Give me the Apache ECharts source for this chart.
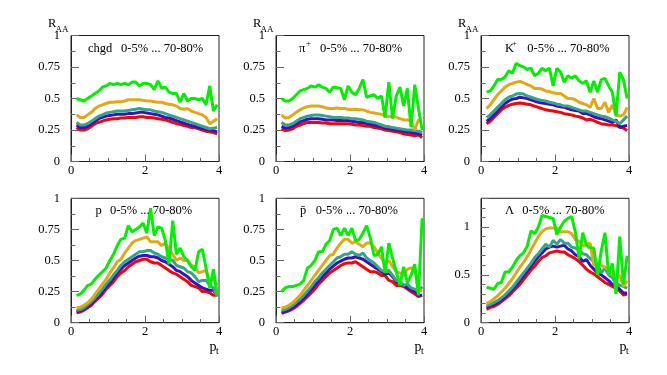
<!DOCTYPE html>
<html><head><meta charset="utf-8">
<script src="https://cdn.jsdelivr.net/npm/echarts@6/dist/echarts.min.js"></script>
<style>html,body{margin:0;padding:0;background:#fff}#c{width:667px;height:375px}</style>
</head><body><div id="c"></div>
<script>
// transverse momentum bins (GeV/c)
const pt = [0.15,0.25,0.35,0.45,0.55,0.65,0.75,0.85,0.95,1.05,1.15,1.25,1.35,1.45,1.55,1.65,1.75,1.85,1.95,2.05,2.15,2.25,2.35,2.45,2.55,2.65,2.75,2.85,2.95,3.05,3.15,3.25,3.35,3.45,3.55,3.65,3.75,3.85,3.95];
const xTicks = [0, 2, 4];
const yTicks = [0, 0.25, 0.5, 0.75, 1];
const yTicksLambda = [0, 0.5, 1];
const centralityText = '0-5% ... 70-80%';

// charged hadrons
const chgdRed = [0.27,0.25,0.25,0.26,0.28,0.30,0.31,0.32,0.33,0.335,0.34,0.34,0.345,0.345,0.35,0.35,0.35,0.355,0.355,0.35,0.35,0.345,0.34,0.335,0.33,0.32,0.31,0.30,0.295,0.285,0.28,0.27,0.27,0.26,0.25,0.24,0.235,0.23,0.22];
const chgdBlue = [0.29,0.27,0.27,0.28,0.30,0.32,0.34,0.35,0.36,0.365,0.37,0.375,0.375,0.375,0.38,0.38,0.385,0.39,0.39,0.385,0.38,0.375,0.37,0.36,0.35,0.345,0.335,0.325,0.315,0.305,0.295,0.285,0.28,0.27,0.26,0.255,0.25,0.245,0.235];
const chgdTeal = [0.31,0.29,0.29,0.30,0.32,0.34,0.36,0.37,0.385,0.39,0.395,0.40,0.40,0.40,0.405,0.41,0.415,0.42,0.415,0.41,0.41,0.40,0.395,0.39,0.38,0.37,0.36,0.35,0.34,0.33,0.32,0.31,0.30,0.29,0.28,0.27,0.26,0.265,0.27];
const chgdOrange = [0.37,0.35,0.35,0.37,0.39,0.42,0.44,0.45,0.46,0.47,0.47,0.475,0.475,0.48,0.49,0.49,0.49,0.49,0.485,0.48,0.48,0.475,0.47,0.47,0.46,0.455,0.45,0.44,0.42,0.415,0.42,0.40,0.39,0.38,0.37,0.35,0.30,0.32,0.34];
const chgdGreen = [0.50,0.49,0.48,0.50,0.52,0.54,0.56,0.59,0.60,0.62,0.61,0.62,0.61,0.62,0.61,0.63,0.63,0.60,0.62,0.62,0.61,0.57,0.64,0.58,0.59,0.55,0.54,0.54,0.47,0.54,0.48,0.50,0.50,0.49,0.50,0.45,0.60,0.40,0.45];

// pi+
const piRed = [0.26,0.245,0.25,0.26,0.28,0.29,0.30,0.31,0.31,0.31,0.31,0.305,0.305,0.30,0.30,0.30,0.30,0.30,0.30,0.295,0.29,0.29,0.285,0.28,0.28,0.27,0.265,0.26,0.25,0.245,0.24,0.235,0.23,0.22,0.215,0.21,0.205,0.21,0.19];
const piBlue = [0.28,0.265,0.27,0.28,0.30,0.315,0.325,0.335,0.34,0.34,0.34,0.335,0.33,0.33,0.33,0.325,0.325,0.325,0.325,0.32,0.315,0.31,0.31,0.30,0.295,0.29,0.28,0.275,0.265,0.26,0.255,0.25,0.245,0.24,0.235,0.23,0.225,0.22,0.21];
const piTeal = [0.31,0.29,0.29,0.30,0.32,0.34,0.35,0.36,0.365,0.37,0.37,0.365,0.36,0.355,0.35,0.35,0.35,0.345,0.345,0.34,0.34,0.335,0.33,0.32,0.315,0.31,0.30,0.29,0.28,0.275,0.27,0.265,0.26,0.255,0.25,0.25,0.245,0.24,0.23];
const piOrange = [0.37,0.345,0.35,0.37,0.39,0.41,0.425,0.435,0.44,0.44,0.44,0.435,0.425,0.42,0.42,0.425,0.42,0.42,0.415,0.41,0.415,0.41,0.41,0.40,0.39,0.385,0.38,0.375,0.36,0.355,0.36,0.35,0.34,0.33,0.33,0.32,0.25,0.33,0.32];
const piGreen = [0.50,0.48,0.48,0.50,0.53,0.56,0.57,0.58,0.60,0.59,0.61,0.59,0.58,0.55,0.59,0.585,0.58,0.49,0.60,0.55,0.53,0.58,0.65,0.51,0.52,0.53,0.50,0.52,0.35,0.63,0.34,0.52,0.59,0.44,0.58,0.27,0.61,0.42,0.25];

// K+
const kRed = [0.30,0.32,0.35,0.38,0.41,0.43,0.445,0.455,0.46,0.465,0.46,0.455,0.45,0.44,0.43,0.42,0.41,0.405,0.40,0.395,0.39,0.38,0.375,0.37,0.36,0.355,0.345,0.33,0.335,0.325,0.31,0.30,0.295,0.29,0.29,0.285,0.275,0.265,0.245];
const kBlue = [0.32,0.34,0.37,0.40,0.43,0.46,0.48,0.495,0.50,0.51,0.505,0.50,0.49,0.48,0.47,0.465,0.46,0.455,0.45,0.44,0.435,0.43,0.42,0.41,0.405,0.40,0.38,0.38,0.37,0.355,0.345,0.34,0.33,0.32,0.31,0.33,0.27,0.28,0.285];
const kTeal = [0.35,0.37,0.40,0.43,0.46,0.49,0.51,0.52,0.535,0.54,0.535,0.52,0.51,0.50,0.49,0.485,0.48,0.47,0.465,0.455,0.45,0.44,0.44,0.43,0.42,0.41,0.40,0.40,0.39,0.38,0.37,0.36,0.355,0.345,0.33,0.32,0.30,0.33,0.36];
const kOrange = [0.42,0.45,0.49,0.53,0.56,0.59,0.61,0.62,0.63,0.635,0.625,0.61,0.60,0.58,0.58,0.575,0.56,0.555,0.545,0.54,0.54,0.52,0.50,0.50,0.49,0.47,0.46,0.45,0.43,0.50,0.42,0.42,0.47,0.39,0.45,0.37,0.36,0.37,0.43];
const kGreen = [0.55,0.56,0.60,0.65,0.65,0.67,0.72,0.70,0.78,0.76,0.75,0.73,0.74,0.68,0.70,0.74,0.72,0.74,0.60,0.74,0.71,0.63,0.68,0.66,0.68,0.64,0.62,0.64,0.55,0.64,0.55,0.65,0.66,0.60,0.55,0.36,0.71,0.65,0.50];

// p
const pRed = [0.08,0.085,0.10,0.12,0.14,0.17,0.20,0.23,0.27,0.30,0.33,0.37,0.40,0.42,0.45,0.47,0.49,0.50,0.51,0.51,0.49,0.48,0.48,0.46,0.44,0.42,0.40,0.39,0.37,0.35,0.33,0.30,0.29,0.28,0.25,0.25,0.24,0.22,0.22];
const pBlue = [0.09,0.095,0.11,0.13,0.155,0.185,0.215,0.25,0.29,0.32,0.36,0.40,0.43,0.46,0.48,0.50,0.52,0.535,0.54,0.54,0.53,0.53,0.52,0.50,0.49,0.47,0.45,0.42,0.41,0.39,0.37,0.34,0.32,0.30,0.28,0.27,0.26,0.26,0.22];
const pTeal = [0.10,0.105,0.12,0.145,0.17,0.20,0.235,0.27,0.31,0.345,0.385,0.42,0.46,0.49,0.51,0.53,0.55,0.57,0.57,0.58,0.58,0.56,0.55,0.53,0.52,0.51,0.50,0.46,0.45,0.44,0.41,0.40,0.37,0.33,0.34,0.34,0.30,0.28,0.21];
const pOrange = [0.12,0.125,0.14,0.16,0.19,0.23,0.27,0.31,0.35,0.40,0.44,0.49,0.51,0.56,0.60,0.64,0.66,0.67,0.68,0.69,0.65,0.65,0.65,0.62,0.64,0.59,0.55,0.50,0.52,0.50,0.50,0.46,0.45,0.40,0.41,0.42,0.33,0.35,0.30];
const pGreen = [0.22,0.23,0.26,0.30,0.31,0.35,0.38,0.41,0.44,0.50,0.55,0.62,0.67,0.68,0.78,0.73,0.75,0.77,0.80,0.72,0.92,0.70,0.77,0.76,0.66,0.47,0.82,0.55,0.60,0.53,0.50,0.45,0.42,0.57,0.59,0.44,0.28,0.43,0.22];

// anti-p
const pbRed = [0.075,0.085,0.095,0.11,0.13,0.155,0.18,0.21,0.24,0.27,0.31,0.34,0.37,0.40,0.42,0.44,0.46,0.475,0.48,0.48,0.49,0.47,0.45,0.43,0.41,0.41,0.40,0.38,0.38,0.34,0.33,0.30,0.30,0.29,0.27,0.25,0.23,0.21,0.22];
const pbBlue = [0.085,0.09,0.105,0.12,0.145,0.17,0.20,0.23,0.265,0.30,0.335,0.37,0.40,0.43,0.455,0.48,0.495,0.51,0.52,0.52,0.53,0.52,0.51,0.49,0.47,0.45,0.43,0.41,0.39,0.40,0.37,0.33,0.31,0.30,0.28,0.26,0.25,0.22,0.22];
const pbTeal = [0.10,0.105,0.12,0.14,0.165,0.19,0.22,0.255,0.29,0.33,0.36,0.40,0.43,0.46,0.49,0.52,0.53,0.55,0.55,0.57,0.55,0.54,0.56,0.52,0.50,0.48,0.45,0.42,0.41,0.42,0.38,0.34,0.33,0.30,0.31,0.28,0.27,0.25,0.29];
const pbOrange = [0.12,0.125,0.14,0.16,0.19,0.22,0.26,0.30,0.34,0.38,0.42,0.46,0.50,0.54,0.55,0.60,0.64,0.67,0.67,0.64,0.65,0.63,0.61,0.64,0.64,0.61,0.56,0.52,0.47,0.50,0.45,0.41,0.40,0.38,0.43,0.44,0.43,0.27,0.25];
const pbGreen = [0.25,0.28,0.29,0.29,0.30,0.31,0.34,0.44,0.46,0.50,0.57,0.57,0.63,0.66,0.75,0.76,0.70,0.76,0.70,0.76,0.66,0.67,0.72,0.78,0.68,0.54,0.55,0.61,0.40,0.64,0.52,0.41,0.30,0.45,0.32,0.38,0.47,0.22,0.84];

// Lambda
const lRed = [0.14,0.16,0.17,0.19,0.22,0.25,0.28,0.32,0.36,0.40,0.45,0.50,0.55,0.59,0.64,0.68,0.70,0.73,0.74,0.75,0.74,0.74,0.71,0.69,0.67,0.64,0.60,0.56,0.53,0.51,0.48,0.45,0.42,0.40,0.38,0.36,0.33,0.29,0.30];
const lBlue = [0.16,0.175,0.19,0.21,0.24,0.27,0.31,0.35,0.39,0.44,0.49,0.54,0.59,0.64,0.69,0.73,0.77,0.79,0.80,0.79,0.80,0.81,0.77,0.75,0.71,0.69,0.64,0.66,0.60,0.56,0.52,0.50,0.47,0.44,0.40,0.38,0.35,0.31,0.31];
const lTeal = [0.18,0.19,0.21,0.23,0.26,0.29,0.33,0.37,0.42,0.47,0.52,0.57,0.62,0.68,0.72,0.77,0.82,0.79,0.86,0.82,0.87,0.83,0.83,0.79,0.78,0.76,0.72,0.71,0.67,0.64,0.61,0.52,0.57,0.50,0.47,0.41,0.39,0.38,0.36];
const lOrange = [0.20,0.22,0.25,0.28,0.32,0.36,0.41,0.46,0.52,0.58,0.63,0.69,0.76,0.83,0.90,0.95,0.98,0.99,0.99,0.99,0.95,0.95,0.95,0.93,0.87,0.85,0.80,0.82,0.83,0.60,0.62,0.60,0.58,0.55,0.50,0.45,0.50,0.38,0.44];
const lGreen = [0.37,0.36,0.35,0.41,0.42,0.53,0.53,0.58,0.65,0.70,0.73,0.80,0.96,0.93,1.00,1.12,1.11,1.10,1.09,0.92,1.00,1.06,1.09,1.11,0.95,0.67,0.94,0.81,0.78,0.78,0.50,0.75,0.94,0.50,0.62,0.30,0.90,0.40,0.70];

const colors = ['#ff0000', '#3413c4', '#35a684', '#e5a812', '#00f000'];
const FONT = 'Liberation Serif';

const panels = [
  {label: 'chgd', sup: '', series: [chgdRed, chgdBlue, chgdTeal, chgdOrange, chgdGreen], ymax: 1, yInterval: 0.25, yMinor: 2, labels: yTicks},
  {label: 'π', sup: '+', series: [piRed, piBlue, piTeal, piOrange, piGreen], ymax: 1, yInterval: 0.25, yMinor: 2, labels: yTicks},
  {label: 'K', sup: '+', series: [kRed, kBlue, kTeal, kOrange, kGreen], ymax: 1, yInterval: 0.25, yMinor: 2, labels: yTicks},
  {label: 'p', sup: '', series: [pRed, pBlue, pTeal, pOrange, pGreen], ymax: 1, yInterval: 0.25, yMinor: 2, labels: yTicks},
  {label: 'p\u0304', sup: '', series: [pbRed, pbBlue, pbTeal, pbOrange, pbGreen], ymax: 1, yInterval: 0.25, yMinor: 2, labels: yTicks},
  {label: 'Λ', sup: '', series: [lRed, lBlue, lTeal, lOrange, lGreen], ymax: 1.3, yInterval: 0.5, yMinor: 0, labels: yTicksLambda}
];

// layout (pixels)
const lefts = [71, 276, 481];
const W = 148;
const tops = [35.5, 198.3];
const heights = [126, 124.4];
const nameX = [[88, 299, 505], [95.5, 300, 505]];
const centX = [[121, 320, 527.3], [110, 315.7, 522.3]];
const titleDy = [12.8, 12.4];

const grids = [], xAxes = [], yAxes = [], series = [], graphics = [];
const tickColor = '#666', frameColor = '#222';

panels.forEach((p, i) => {
  const row = Math.floor(i / 3), col = i % 3;
  grids.push({left: lefts[col], top: tops[row], width: W, height: heights[row], show: true, borderColor: frameColor, borderWidth: 1, backgroundColor: 'transparent'});
  xAxes.push({
    type: 'value', gridIndex: i, min: 0, max: 4, interval: 2,
    axisLine: {show: true, lineStyle: {color: frameColor, width: 1}},
    axisTick: {show: true, inside: true, length: 7, lineStyle: {color: tickColor, width: 1}},
    minorTick: {show: true, splitNumber: 4, length: 3.7, lineStyle: {color: tickColor, width: 1}},
    splitLine: {show: false},
    axisLabel: {color: '#000', fontFamily: FONT, fontSize: 12.5, margin: 3,
      formatter: v => (xTicks.indexOf(v) >= 0 ? String(v) : '')}
  });
  yAxes.push({
    type: 'value', gridIndex: i, min: 0, max: p.ymax, interval: p.yInterval,
    axisLine: {show: true, lineStyle: {color: frameColor, width: 1}},
    axisTick: {show: true, inside: true, length: 8, lineStyle: {color: tickColor, width: 1}},
    minorTick: {show: p.yMinor > 0, splitNumber: p.yMinor || 5, length: 4.5, lineStyle: {color: tickColor, width: 1}},
    splitLine: {show: false},
    axisLabel: {color: '#000', fontFamily: FONT, fontSize: 12.5, margin: 11,
      formatter: v => {
        const m = p.labels.find(t => Math.abs(t - v) < 1e-6);
        return m === undefined ? '' : String(m);
      }}
  });
  p.series.forEach((arr, j) => {
    series.push({
      type: 'line', xAxisIndex: i, yAxisIndex: i,
      data: pt.map((x, k) => [x, arr[k]]).filter(d => d[1] !== undefined),
      showSymbol: false, symbol: 'none', smooth: false, clip: true, silent: true,
      lineStyle: {color: colors[j], width: 3}, itemStyle: {color: colors[j]},
      z: 2 + j
    });
  });
  // panel title
  const ty = tops[row] + titleDy[row];
  graphics.push({type: 'text', x: nameX[row][col], y: ty, silent: true,
    style: {text: p.label, fontFamily: FONT, fontSize: 12.5, fill: '#000', align: 'left', verticalAlign: 'middle'}, z: 100});
  if (p.sup) {
    graphics.push({type: 'text', x: nameX[row][col] + 7, y: ty - 5, silent: true,
      style: {text: p.sup, fontFamily: FONT, fontSize: 8.5, fill: '#000', align: 'left', verticalAlign: 'middle'}, z: 100});
  }
  graphics.push({type: 'text', x: centX[row][col], y: ty, silent: true,
    style: {text: centralityText, fontFamily: FONT, fontSize: 12.5, fill: '#000', align: 'left', verticalAlign: 'middle'}, z: 100});
  if (row === 0) {
    graphics.push({type: 'text', x: lefts[col] - 23, y: 24, silent: true,
      style: {text: 'R', fontFamily: FONT, fontSize: 12.5, fill: '#000', align: 'left', verticalAlign: 'middle'}, z: 100});
    graphics.push({type: 'text', x: lefts[col] - 15.5, y: 29.5, silent: true,
      style: {text: 'AA', fontFamily: FONT, fontSize: 9, fill: '#000', align: 'left', verticalAlign: 'middle'}, z: 100});
  } else {
    const r = lefts[col] + W;
    graphics.push({type: 'text', x: r - 9.5, y: 347, silent: true,
      style: {text: 'p', fontFamily: FONT, fontSize: 14, fill: '#000', align: 'left', verticalAlign: 'middle'}, z: 100});
    graphics.push({type: 'text', x: r - 3, y: 351, silent: true,
      style: {text: 't', fontFamily: FONT, fontSize: 9.5, fill: '#000', align: 'left', verticalAlign: 'middle'}, z: 100});
  }
});

// extra minor-tick axis for the Lambda panel (0.1 steps)
yAxes.push({
  type: 'value', gridIndex: 5, min: 0, max: 1.3, interval: 0.1, position: 'left', offset: 0,
  axisLine: {show: false},
  axisTick: {show: true, inside: true, length: 4.5, lineStyle: {color: tickColor, width: 1}},
  axisLabel: {show: false}, splitLine: {show: false}
});

const chart = echarts.init(document.getElementById('c'), null, {renderer: 'canvas'});
chart.setOption({
  animation: false,
  backgroundColor: '#fff',
  grid: grids, xAxis: xAxes, yAxis: yAxes, series: series,
  graphic: graphics
});
</script>
</body></html>
